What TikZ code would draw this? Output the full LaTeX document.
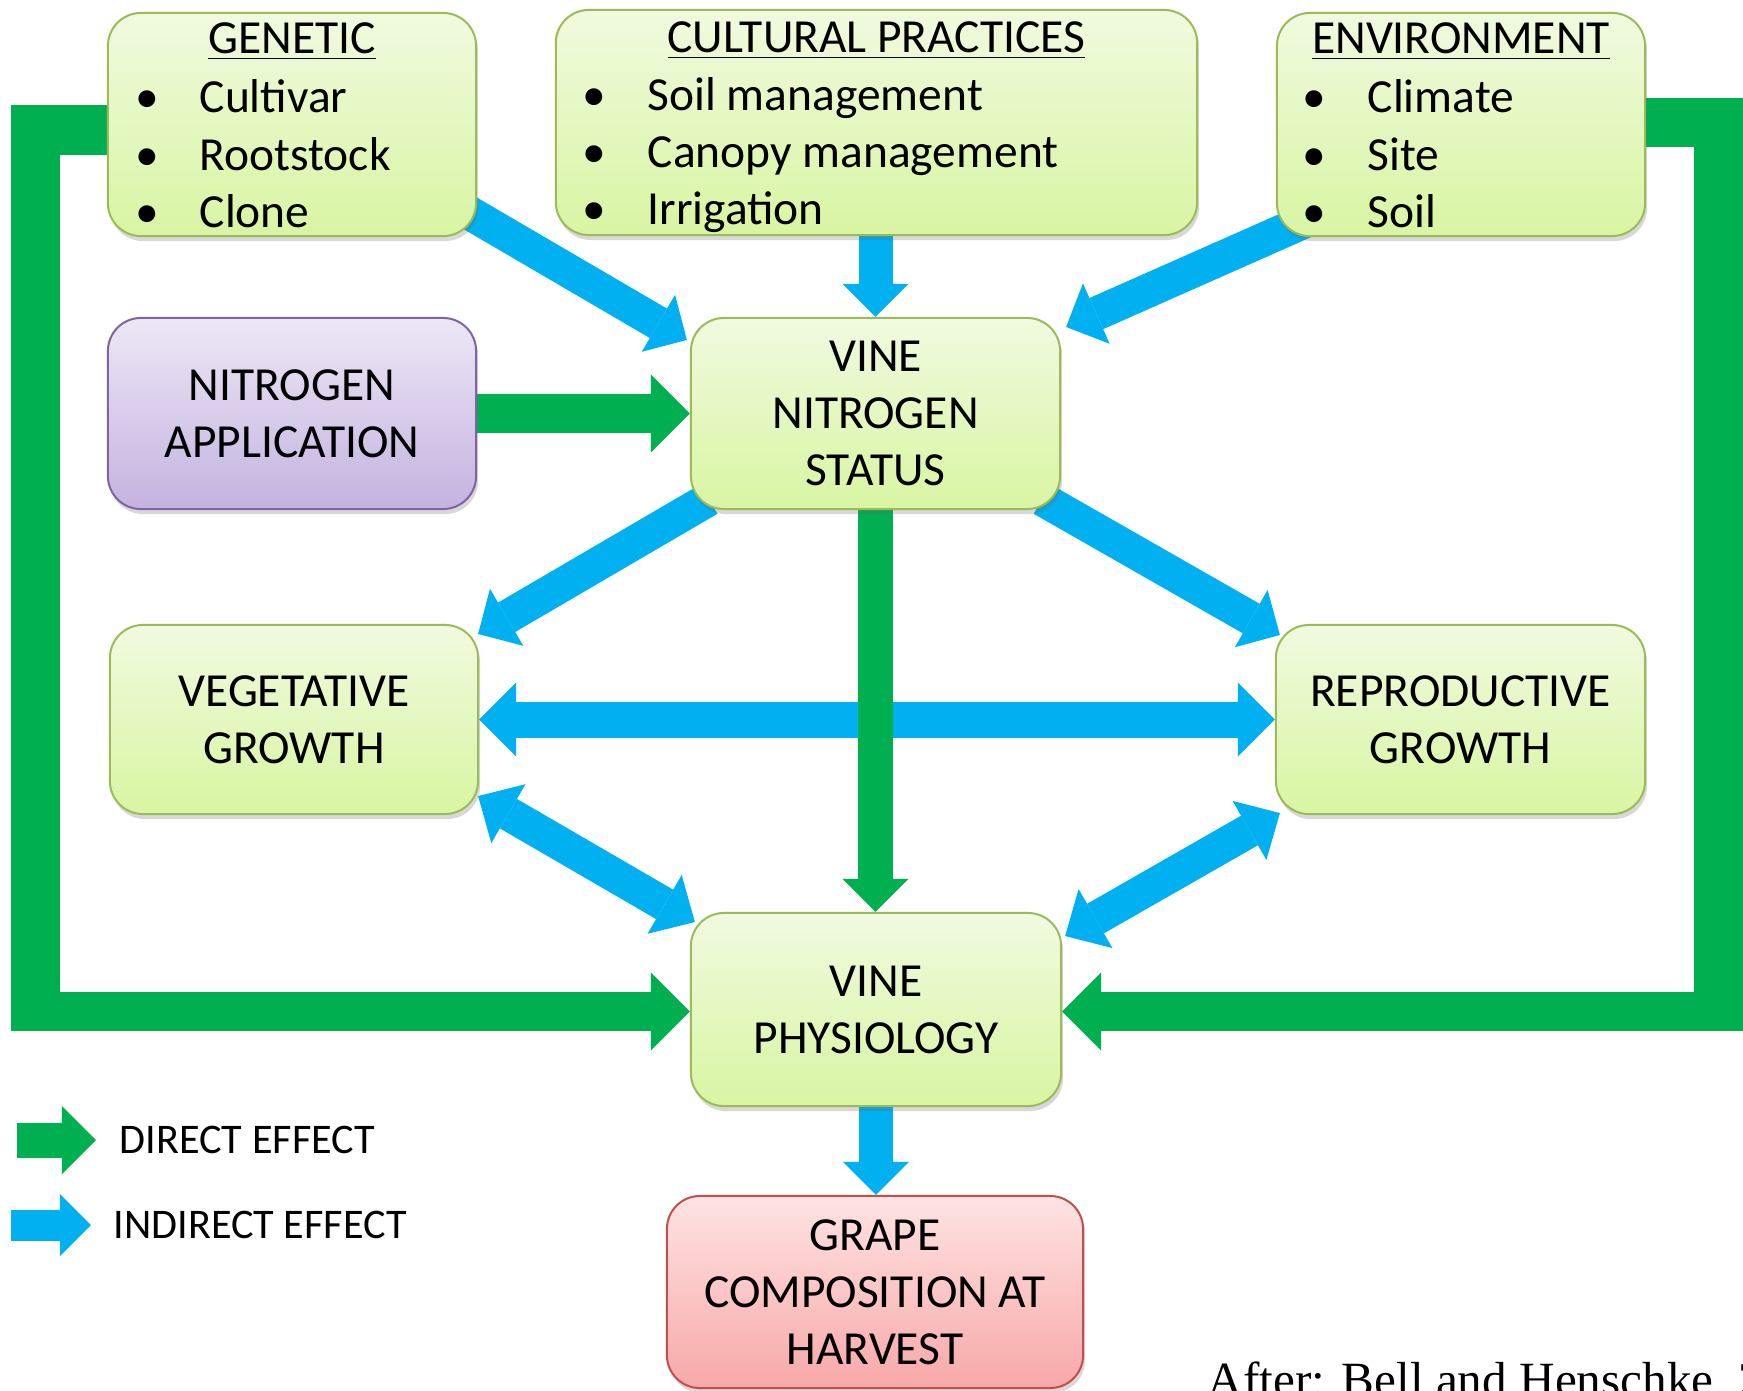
\documentclass[tikz,border=0pt]{standalone}
\usepackage{fontspec}
\setmainfont{Carlito}
\newfontfamily\tnr{Liberation Serif}
\usetikzlibrary{arrows.meta,shadows,calc}
\definecolor{dgreen}{HTML}{00AF50}
\definecolor{dblue}{HTML}{00B0F0}
\definecolor{gtop}{HTML}{F0FADF}
\definecolor{gbot}{HTML}{D8F5A2}
\definecolor{gborder}{HTML}{9BBB59}
\definecolor{ptop}{HTML}{EDE7F6}
\definecolor{pbot}{HTML}{C4B2DF}
\definecolor{pborder}{HTML}{8064A2}
\definecolor{rtop}{HTML}{FFE3E3}
\definecolor{rbot}{HTML}{F7A8A8}
\definecolor{rborder}{HTML}{C0504D}
\newcommand\mainfs{\fontsize{13.5}{16.2}\selectfont}
\newcommand\legfs{\fontsize{12}{14.4}\selectfont}
\pgfdeclarelayer{bg}
\pgfsetlayers{bg,main}
\tikzset{
  boxbase/.style={draw, rounded corners=0.33cm, line width=0.02cm, inner sep=0pt,
    drop shadow={shadow xshift=0.02cm, shadow yshift=-0.05cm, opacity=0.25, fill=black!60}},
  gbox/.style={boxbase, draw=gborder, top color=gtop, bottom color=gbot},
  pbox/.style={boxbase, draw=pborder, top color=ptop, bottom color=pbot},
  rbox/.style={boxbase, draw=rborder, top color=rtop, bottom color=rbot},
  mtext/.style={font=\mainfs, align=center, text=black},
  hdr/.style={font=\mainfs, anchor=base, inner sep=0pt},
  bul/.style={font=\mainfs, anchor=base, inner sep=0pt},
  itm/.style={font=\mainfs, anchor=base west, inner sep=0pt},
  barrow/.style={color=dblue, line width=0.34cm,
    -{Triangle[width=0.66cm,length=0.33cm,line width=0pt]}},
  bdarrow/.style={color=dblue, line width=0.34cm,
    {Triangle[width=0.68cm,length=0.35cm,line width=0pt]}-{Triangle[width=0.68cm,length=0.35cm,line width=0pt]}},
  bharrow/.style={color=dblue, line width=0.36cm,
    {Triangle[width=0.74cm,length=0.37cm,line width=0pt]}-{Triangle[width=0.74cm,length=0.37cm,line width=0pt]}},
  garrow/.style={color=dgreen, line width=0.35cm,
    -{Triangle[width=0.66cm,length=0.33cm,line width=0pt]}},
  gthick/.style={color=dgreen, line width=0.39cm,
    -{Triangle[width=0.78cm,length=0.39cm,line width=0pt]}},
  gbar/.style={color=dgreen, line width=0.49cm, line join=miter},
}
\begin{document}
\begin{tikzpicture}[x=0.01cm,y=-0.01cm]
\useasboundingbox (0,0) rectangle (1743,1390);

% ---------- boxes ----------
\node[gbox, minimum width=3.68cm, minimum height=2.23cm] (gen) at (292,124.5) {};
\node[gbox, minimum width=6.41cm, minimum height=2.25cm] (cult) at (876.5,122.5) {};
\node[gbox, minimum width=3.68cm, minimum height=2.23cm] (env) at (1461,124.5) {};
\node[pbox, mtext, minimum width=3.68cm, minimum height=1.91cm] (napp) at (292,413.5) {NITROGEN\\APPLICATION};
\node[gbox, mtext, minimum width=3.69cm, minimum height=1.91cm] (vns) at (875.5,413.5) {VINE\\NITROGEN\\STATUS};
\node[gbox, mtext, minimum width=3.68cm, minimum height=1.89cm] (veg) at (294,719.5) {VEGETATIVE\\GROWTH};
\node[gbox, mtext, minimum width=3.69cm, minimum height=1.89cm] (rep) at (1460.5,719.5) {REPRODUCTIVE\\GROWTH};
\node[gbox, mtext, minimum width=3.70cm, minimum height=1.93cm] (phys) at (876,1009.5) {VINE\\PHYSIOLOGY};
\node[rbox, mtext, minimum width=4.16cm, minimum height=1.92cm] (grape) at (875,1292) {GRAPE\\COMPOSITION AT\\HARVEST};

% ---------- texts of the top boxes ----------
\node[hdr] (genh) at (292,53) {\underline{GENETIC}};
\node[bul] (genb1) at (147,112) {•};
\node[bul] (genb2) at (147,170) {•};
\node[bul] (genb3) at (147,227) {•};
\node[itm] (gen1) at (199,112) {Cultivar};
\node[itm] (gen2) at (199,170) {Rootstock};
\node[itm] (gen3) at (199,227) {Clone};

\node[hdr] (culth) at (876.5,52) {\underline{CULTURAL PRACTICES}};
\node[bul] (cultb1) at (594,110) {•};
\node[bul] (cultb2) at (594,167) {•};
\node[bul] (cultb3) at (594,224) {•};
\node[itm] (cult1) at (647,110) {Soil management};
\node[itm] (cult2) at (647,167) {Canopy management};
\node[itm] (cult3) at (647,224) {Irrigation};

\node[hdr] (envh) at (1461,53) {\underline{ENVIRONMENT}};
\node[bul] (envb1) at (1314,112) {•};
\node[bul] (envb2) at (1314,170) {•};
\node[bul] (envb3) at (1314,227) {•};
\node[itm] (env1) at (1367,112) {Climate};
\node[itm] (env2) at (1367,170) {Site};
\node[itm] (env3) at (1367,227) {Soil};

% ---------- legend and source ----------
\coordinate (lgs) at (17,1140);
\coordinate (lge) at (96,1140);
\coordinate (lbs) at (11,1225);
\coordinate (lbe) at (91,1225);
\node[font=\legfs, anchor=west, inner sep=0pt] (legd) at (119,1140) {DIRECT EFFECT};
\node[font=\legfs, anchor=west, inner sep=0pt] (legi) at (113,1225) {INDIRECT EFFECT};
\node[font=\tnr\fontsize{14}{16}\selectfont, anchor=base west, inner sep=0pt] (src) at (1207,1396) {After: Bell and Henschke, 20};

% ---------- connectors ----------
\begin{pgfonlayer}{bg}
\fill[white] (0,0) rectangle (1743,1390);
% indirect effects
\draw[barrow] ($(gen.south east)+(-21,-32)$) -- ($(vns.north west)+(-3,23)$);
\draw[barrow] (cult.south -| vns.north) -- (vns.north);
\draw[barrow] ($(env.south west)+(34,-18)$) -- ($(vns.north east)+(5,10)$);
\draw[barrow] ($(vns.south west)+(19,-11)$) -- ($(veg.north east)+(-1,10)$);
\draw[barrow] ($(vns.south east)+(-19,-11)$) -- ($(rep.north west)+(5,11)$);
\draw[bharrow] (veg.east) -- (rep.west);
\draw[bdarrow] ($(veg.south east)+(-1,-19)$) -- ($(phys.north west)+(5,10)$);
\draw[bdarrow] ($(rep.south west)+(5,-2)$) -- ($(phys.north east)+(3,24)$);
\draw[barrow] (phys.south) -- (phys.south |- grape.north);
% direct effects
\draw[garrow] (vns.south) -- (vns.south |- phys.north);
\draw[gthick] (napp.east) -- (vns.west);
\coordinate (lbot) at (35.5,1031);
\coordinate (lfoot) at (11,1011.5);
\draw[gbar] ($(gen.west)+(10,5.5)$) -| (lbot);
\draw[gthick] (lfoot) -- ($(phys.west)+(0,2)$);
\coordinate (rbot) at (1718.5,1031);
\coordinate (rfoot) at (1743,1011.5);
\draw[gbar] ($(env.east)+(-10,-2)$) -| (rbot);
\draw[gthick] (rfoot) -- ($(phys.east)+(0,2)$);
% legend arrows
\draw[color=dgreen, line width=0.35cm, -{Triangle[width=0.68cm,length=0.34cm,line width=0pt]}] (lgs) -- (lge);
\draw[color=dblue, line width=0.31cm, -{Triangle[width=0.62cm,length=0.31cm,line width=0pt]}] (lbs) -- (lbe);
\end{pgfonlayer}
\end{tikzpicture}
\end{document}
